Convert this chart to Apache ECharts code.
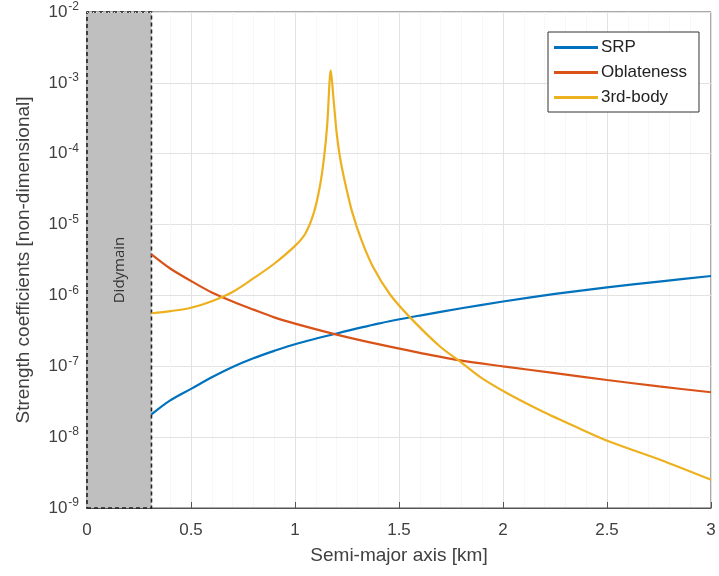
<!DOCTYPE html>
<html><head><meta charset="utf-8">
<script src="https://cdn.jsdelivr.net/npm/echarts@6/dist/echarts.min.js"></script>
<style>html,body{margin:0;padding:0;background:#fff}#c{width:719px;height:576px}</style>
</head><body><div id="c"></div>
<script>
const srpX = [0.31,0.4,0.5,0.6,0.7,0.8,0.9,1.0,1.2,1.4,1.6,1.8,2.0,2.25,2.5,2.75,3.0];
const srpY = [2.1e-8,3.3e-8,4.8e-8,7.0e-8,9.8e-8,1.3e-7,1.65e-7,2.05e-7,2.9e-7,4.0e-7,5.2e-7,6.6e-7,8.2e-7,1.05e-6,1.3e-6,1.57e-6,1.88e-6];
const oblX = [0.31,0.4,0.5,0.6,0.7,0.8,0.9,1.0,1.2,1.4,1.6,1.8,2.0,2.25,2.5,2.75,3.0];
const oblY = [3.8e-6,2.4e-6,1.6e-6,1.1e-6,8.2e-7,6.3e-7,4.9e-7,4.0e-7,2.8e-7,2.05e-7,1.55e-7,1.2e-7,1.0e-7,8.0e-8,6.4e-8,5.2e-8,4.3e-8];
const tbX = [0.31,0.4,0.5,0.6,0.7,0.8,0.9,1.0,1.05,1.09,1.12,1.14,1.155,1.172,1.185,1.2,1.216,1.24,1.275,1.32,1.376,1.457,1.553,1.697,1.793,1.889,2.018,2.178,2.35,2.514,2.755,3.0];
const tbY = [5.6e-7,6.0e-7,6.7e-7,8.3e-7,1.12e-6,1.74e-6,2.8e-6,5.0e-6,7.5e-6,1.45e-5,3.5e-5,9.0e-5,2.6e-4,1.5e-3,6.0e-4,2.0e-4,9.0e-5,4.0e-5,1.5e-5,6.0e-6,2.5e-6,1.03e-6,4.9e-7,1.9e-7,1.17e-7,7.1e-8,4.2e-8,2.4e-8,1.4e-8,8.6e-9,4.8e-9,2.5e-9];
const seriesNames = ['SRP','Oblateness','3rd-body'];
const bodyName = 'Didymain';
const bodyEdge = 0.31;
const xTicks = [0,0.5,1,1.5,2,2.5,3];
const yMin = 1e-9, yMax = 1e-2;

const pair = (xs, ys) => xs.map((x,i)=>[x, ys[i]]);
const minorLines = [];
for (let e = -9; e < -2; e++) for (let m = 2; m <= 9; m++) minorLines.push({yAxis: m * Math.pow(10, e)});

const txt = '#404040';
const ff = 'Liberation Sans, Arial, sans-serif';
const chart = echarts.init(document.getElementById('c'));
chart.setOption({
  animation: false,
  backgroundColor: '#fff',
  textStyle: {fontFamily: ff},
  grid: {left: 87, right: 8, top: 12, bottom: 68, show: true, borderColor: '#555', borderWidth: 1, backgroundColor: 'transparent'},
  legend: {
    orient: 'vertical', left: 548, top: 32, data: seriesNames,
    backgroundColor: '#fff', borderColor: '#333', borderWidth: 1,
    padding: [6, 12, 5, 6], itemGap: 6, itemWidth: 44, itemHeight: 3, icon: 'rect',
    textStyle: {fontSize: 17, color: '#222', fontFamily: ff, padding: [0,0,0,-2], lineHeight: 19}
  },
  xAxis: {
    type: 'value', min: 0, max: 3, interval: 0.5,
    name: 'Semi-major axis [km]', nameLocation: 'middle', nameGap: 38,
    nameTextStyle: {fontSize: 19, color: txt},
    axisLine: {show: true, lineStyle: {color: '#555'}},
    axisTick: {show: true, inside: true, length: 6, lineStyle: {color: '#555'}},
    axisLabel: {fontSize: 17, color: txt, margin: 14, formatter: v => xTicks.includes(v) ? String(v) : ''},
    splitLine: {show: true, lineStyle: {color: '#e2e2e2', width: 1}},
    minorTick: {show: false, splitNumber: 5},
    minorSplitLine: {show: true, lineStyle: {color: '#f0f0f0', type: 'dotted'}}
  },
  yAxis: {
    type: 'log', logBase: 10, min: yMin, max: yMax,
    name: 'Strength coefficients [non-dimensional]', nameLocation: 'middle', nameGap: 54,
    nameTextStyle: {fontSize: 19, color: txt},
    axisLine: {show: true, lineStyle: {color: '#555'}},
    axisTick: {show: true, inside: true, length: 6, lineStyle: {color: '#555'}},
    axisLabel: {
      color: txt, margin: 8,
      formatter: v => '{b|10}{s|' + Math.round(Math.log10(v)) + '}',
      rich: {b: {fontSize: 17, color: txt, fontFamily: ff},
             s: {fontSize: 12, color: txt, verticalAlign: 'top', padding: [0,0,10,1], fontFamily: ff}}
    },
    splitLine: {show: true, lineStyle: {color: '#e2e2e2', width: 1}}
  },
  series: [
    {
      type: 'line', name: '_bg', data: [], silent: true,
      markLine: {silent: true, symbol: ['none','none'], label: {show: false},
        lineStyle: {color: '#e4e4e4', type: [1,2], width: 1}, data: minorLines},
      markArea: {silent: true,
        itemStyle: {color: '#bfbfbf', borderColor: '#222', borderWidth: 1.6, borderType: [4,3]},
        label: {show: true, position: 'inside', rotate: 90, offset: [-10, 0], fontSize: 15, color: '#333', fontFamily: 'Open Sans, DejaVu Sans, sans-serif'},
        data: [[{name: bodyName, xAxis: 0, yAxis: yMin}, {xAxis: bodyEdge, yAxis: yMax}]]}
    },
    {type: 'line', name: seriesNames[0], data: pair(srpX, srpY), showSymbol: false, symbol: 'none', smooth: 0.3,
      lineStyle: {color: '#0072BD', width: 2.2}, itemStyle: {color: '#0072BD'}, z: 5},
    {type: 'line', name: seriesNames[1], data: pair(oblX, oblY), showSymbol: false, symbol: 'none', smooth: 0.3,
      lineStyle: {color: '#D95319', width: 2.2}, itemStyle: {color: '#D95319'}, z: 5},
    {type: 'line', name: seriesNames[2], data: pair(tbX, tbY), showSymbol: false, symbol: 'none', smooth: 0.3,
      lineStyle: {color: '#EDB120', width: 2.2}, itemStyle: {color: '#EDB120'}, z: 5}
  ]
});
</script></body></html>
